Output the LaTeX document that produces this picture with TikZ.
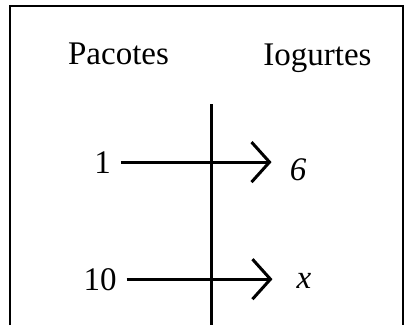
\documentclass[tikz,border=0pt]{standalone}
\usepackage{fontspec}
\setmainfont{Liberation Serif}
\usetikzlibrary{arrows.meta}
\tikzset{
  lbl/.style={inner sep=0pt, anchor=base, font=\fontsize{33}{36}\selectfont},
  val/.style={lbl, font=\fontsize{33}{36}\selectfont\itshape},
  conn/.style={-{Straight Barb[length=18pt,width=40pt]}, line width=3pt},
  axis/.style={line width=3pt},
  frame/.style={line width=2pt},
}

\begin{document}
\begin{tikzpicture}[x=1pt,y=-1pt]
\useasboundingbox (0,0) rectangle (406,325);
% frame, open at the bottom
\draw[frame] (10,325) -- (10,6) -- (403,6) -- (403,325);

% column heads
\node[lbl] (pac) at (118.5,64) {Pacotes};
\node[lbl] (iog) at (317.5,65) {Iogurtes};

% values
\node[lbl] (n1)  at (102.5,173) {1};
\node[lbl] (n10) at (100,290)   {10};
\node[val] (v6)  at (298,180)   {6};
\node[val] (vx)  at (304,288)   {x};

% dividing line
\coordinate (vtop) at (211,104);
\coordinate (vbot) at (211,325);
\draw[axis] (vtop) -- (vbot);

% correspondences
\draw[conn, shorten <=10pt, shorten >=18pt] (n1.east) -- (n1.east -| v6.west);
\draw[conn, shorten <=10pt, shorten >=24pt] (n10.east) -- (n10.east -| vx.west);
\end{tikzpicture}
\end{document}
